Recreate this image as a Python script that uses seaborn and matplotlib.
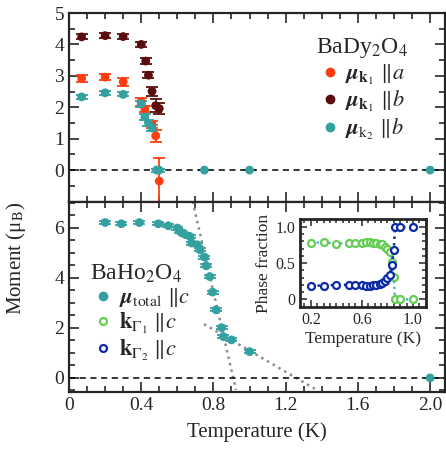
import numpy as np
import pandas as pd
import matplotlib
matplotlib.use('Agg')
import matplotlib.pyplot as plt
from matplotlib.lines import Line2D
from matplotlib.ticker import MultipleLocator
import seaborn as sns

# ---- BaDy2O4 (top panel) ----
dy_T_a = [0.07, 0.20, 0.30, 0.40, 0.42, 0.46, 0.48, 0.50]
dy_mu_a = [2.92, 2.96, 2.81, 2.17, 1.95, 1.45, 1.09, -0.35]
dy_err_a = [0.10, 0.10, 0.12, 0.12, 0.10, 0.12, 0.20, 0.75]

dy_T_b = [0.07, 0.20, 0.30, 0.40, 0.425, 0.44, 0.46, 0.48, 0.50]
dy_mu_b = [4.24, 4.28, 4.25, 4.00, 3.47, 3.02, 2.51, 2.05, 1.96]
dy_err_b = [0.08, 0.08, 0.08, 0.08, 0.10, 0.10, 0.15, 0.20, 0.18]

dy_T_k2 = [0.07, 0.20, 0.30, 0.40, 0.42, 0.44, 0.46, 0.485, 0.50, 0.75, 1.0, 2.0]
dy_mu_k2 = [2.33, 2.46, 2.41, 2.11, 1.69, 1.50, 1.34, 0.0, 0.0, 0.0, 0.0, 0.0]
dy_err_k2 = [0.06, 0.06, 0.06, 0.10, 0.10, 0.10, 0.10, 0.05, 0.05, 0.0, 0.0, 0.0]

# ---- BaHo2O4 (bottom panel) ----
ho_T = [0.20, 0.29, 0.39, 0.495, 0.55, 0.60, 0.615, 0.64, 0.67, 0.68, 0.71,
        0.725, 0.75, 0.76, 0.78, 0.795, 0.815, 0.845, 0.855, 0.90, 1.0, 2.0]
ho_mu = [6.21, 6.16, 6.21, 6.16, 6.08, 5.99, 5.85, 5.75, 5.65, 5.39, 5.32,
         5.12, 4.83, 4.48, 4.05, 3.43, 2.72, 2.01, 1.65, 1.52, 1.05, 0.0]
ho_err = [0.06] * 21 + [0.0]

# dotted guide lines
fit1_T = [0.685, 0.925]
fit1_mu = [7.05, -0.48]
fit2_T = [0.748, 1.372]
fit2_mu = [2.15, -0.48]

# ---- inset: phase fractions ----
ph_T = [0.2, 0.3, 0.4, 0.5, 0.55, 0.6, 0.63, 0.66, 0.69, 0.71, 0.74, 0.76,
        0.78, 0.80, 0.82, 0.835, 0.85, 0.86, 0.9, 1.0]
ph_g1 = [0.78, 0.79, 0.77, 0.78, 0.78, 0.78, 0.79, 0.79, 0.78, 0.78, 0.77,
         0.76, 0.73, 0.70, 0.65, 0.52, 0.31, 0.0, 0.0, 0.0]
ph_g2 = [0.19, 0.19, 0.20, 0.20, 0.20, 0.20, 0.19, 0.19, 0.20, 0.20, 0.21,
         0.23, 0.26, 0.30, 0.34, 0.47, 0.68, 1.0, 1.0, 1.0]

c_orange = '#ff3d12'
c_brown = '#5a0d0d'
c_teal = '#34a0a0'
c_green = '#66cc55'
c_blue = '#0a2aa8'

sns.set_style('ticks')
plt.rcParams['font.family'] = ['Liberation Serif', 'DejaVu Serif']
plt.rcParams['mathtext.fontset'] = 'stix'
plt.rcParams['axes.linewidth'] = 1.6

fig = plt.figure(figsize=(4.46, 4.58), dpi=100)
ax1 = fig.add_axes([0.1547, 0.56, 0.842, 0.4116])
ax2 = fig.add_axes([0.1547, 0.1448, 0.842, 0.4152], sharex=ax1)


def style_axes(ax, labelsize=14):
    ax.tick_params(which='both', direction='in', top=True, right=True,
                   labelsize=labelsize, width=1.2)
    ax.tick_params(which='major', length=7)
    ax.tick_params(which='minor', length=4)


# top panel
for T, mu, err, col in [(dy_T_a, dy_mu_a, dy_err_a, c_orange),
                        (dy_T_b, dy_mu_b, dy_err_b, c_brown),
                        (dy_T_k2, dy_mu_k2, dy_err_k2, c_teal)]:
    ax1.errorbar(T, mu, yerr=err, fmt='none', ecolor=col, elinewidth=1.3,
                 capsize=4, capthick=1.3)
    sns.scatterplot(x=T, y=mu, ax=ax1, color=col, s=40, edgecolor='none',
                    zorder=3)
ax1.axhline(0, color='black', ls='--', lw=1.1, dashes=(4, 3))
ax1.set_ylim(-1, 5)
ax1.set_yticks([0, 1, 2, 3, 4, 5])
ax1.yaxis.set_minor_locator(MultipleLocator(0.5))
style_axes(ax1)
plt.setp(ax1.get_xticklabels(), visible=False)

h_top = [Line2D([], [], ls='none', marker='o', ms=6, color=c) for c in (c_orange, c_brown, c_teal)]
lab_top = [r'$\boldsymbol{\mu}_{\mathbf{k}_1}$ $\Vert a$',
           r'$\boldsymbol{\mu}_{\mathbf{k}_1}$ $\Vert b$',
           r'$\boldsymbol{\mu}_{\mathrm{k}_2}$ $\Vert b$']
leg1 = ax1.legend(h_top, lab_top, title=r'BaDy$_2$O$_4$', loc='upper right',
                  bbox_to_anchor=(0.94, 0.95), frameon=False, fontsize=16,
                  title_fontsize=17, handletextpad=0.1, labelspacing=0.12,
                  handlelength=1.2, borderaxespad=0.2)
leg1._legend_box.align = 'left'

# bottom panel
df_ho = pd.DataFrame({'T': ho_T, 'mu': ho_mu})
ax2.errorbar(ho_T, ho_mu, yerr=ho_err, fmt='none', ecolor=c_teal,
             elinewidth=1.3, capsize=4, capthick=1.3)
sns.scatterplot(data=df_ho, x='T', y='mu', ax=ax2, color=c_teal, s=40,
                edgecolor='none', zorder=3)
ax2.plot(fit1_T, fit1_mu, color='#8c8c8c', ls=':', lw=1.8)
ax2.plot(fit2_T, fit2_mu, color='#8c8c8c', ls=':', lw=1.8)
ax2.axhline(0, color='black', ls='--', lw=1.1, dashes=(4, 3))
ax2.set_ylim(-0.55, 7.05)
ax2.set_yticks([0, 2, 4, 6])
ax2.yaxis.set_minor_locator(MultipleLocator(0.5))
ax2.set_xlim(0, 2.08)
ax2.set_xticks([0, 0.4, 0.8, 1.2, 1.6, 2.0])
ax2.set_xticklabels(['0', '0.4', '0.8', '1.2', '1.6', '2.0'])
ax2.xaxis.set_minor_locator(MultipleLocator(0.1))
style_axes(ax2)
ax2.set_xlabel('Temperature (K)', fontsize=15, labelpad=6)
ax2.set_ylabel('')
ax1.set_ylabel('')
ax1.set_xlabel('')

h_bot = [Line2D([], [], ls='none', marker='o', ms=6, color=c_teal),
         Line2D([], [], ls='none', marker='o', ms=5, mfc='white', mec=c_green, mew=1.6),
         Line2D([], [], ls='none', marker='o', ms=5, mfc='white', mec=c_blue, mew=1.6)]
lab_bot = [r'$\boldsymbol{\mu}_{\mathrm{total}}$ $\Vert c$',
           r'$\mathbf{k}_{\Gamma_1}$ $\Vert c$',
           r'$\mathbf{k}_{\Gamma_2}$ $\Vert c$']
leg2 = ax2.legend(h_bot, lab_bot, title=r'BaHo$_2$O$_4$', loc='upper left',
                  bbox_to_anchor=(0.02, 0.75), frameon=False, fontsize=16,
                  title_fontsize=17, handletextpad=0.1, labelspacing=0.08,
                  handlelength=1.2, borderaxespad=0.2)
leg2._legend_box.align = 'left'

fig.text(0.035, 0.435, r'Moment (μ$_\mathrm{B}$)', rotation=90, fontsize=15,
         ha='center', va='center')

# inset
axi = fig.add_axes([0.6726, 0.329, 0.2818, 0.1928])
df_ph = pd.DataFrame({'T': ph_T, 'g1': ph_g1, 'g2': ph_g2})
sns.lineplot(data=df_ph, x='T', y='g1', ax=axi, color='#2fa8e0', ls=':',
             lw=1.6, marker='o', ms=5, mfc='white', mec=c_green, mew=1.6)
sns.lineplot(data=df_ph, x='T', y='g2', ax=axi, color=c_blue, ls=':',
             lw=1.8, marker='o', ms=5, mfc='white', mec=c_blue, mew=1.6)
axi.set_xlim(0.115, 1.10)
axi.set_ylim(-0.11, 1.11)
axi.set_xticks([0.2, 0.6, 1.0])
axi.set_xticklabels(['0.2', '0.6', '1.0'])
axi.set_yticks([0, 0.5, 1.0])
axi.set_yticklabels(['0', '0.5', '1.0'])
axi.xaxis.set_minor_locator(MultipleLocator(0.05))
axi.yaxis.set_minor_locator(MultipleLocator(0.1))
for s in axi.spines.values():
    s.set_linewidth(2.0)
axi.tick_params(which='both', direction='in', top=True, right=True,
                labelsize=11.5, width=1.1)
axi.tick_params(which='major', length=5)
axi.tick_params(which='minor', length=3)
axi.set_xlabel('Temperature (K)', fontsize=12.5, labelpad=2)
axi.set_ylabel('Phase fraction', fontsize=12.5, labelpad=2)

fig.savefig('out.png', dpi=100)
